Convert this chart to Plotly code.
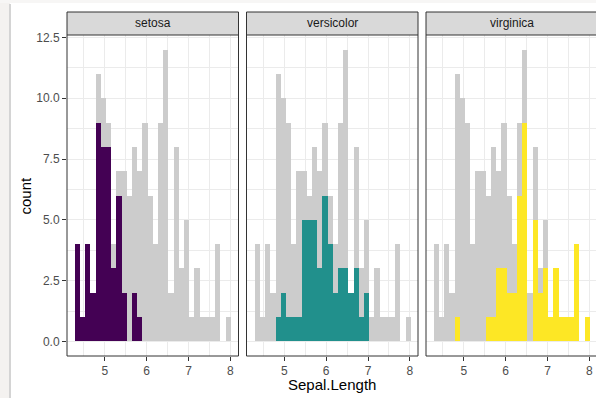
import plotly.graph_objects as go

# ---- data (histogram of iris Sepal.Length, 30 bins) ----
bin_lo = 4.2828          # first break
bin_w = 0.12414          # bin width
n_bins = 30
all_counts = [4, 1, 4, 2, 11, 10, 9, 4, 7, 7, 6, 8, 7, 9, 6, 4, 9, 12, 2, 8, 3, 5, 1, 3, 1, 1, 1, 4, 0, 1]
setosa = [4, 1, 4, 2, 9, 8, 8, 3, 6, 2, 0, 2, 1, 0, 0, 0, 0, 0, 0, 0, 0, 0, 0, 0, 0, 0, 0, 0, 0, 0]
versicolor = [0, 0, 0, 0, 1, 2, 1, 1, 1, 5, 5, 5, 3, 6, 4, 2, 3, 3, 2, 3, 1, 2, 0, 0, 0, 0, 0, 0, 0, 0]
virginica = [0, 0, 0, 0, 1, 0, 0, 0, 0, 0, 1, 1, 3, 3, 2, 2, 6, 9, 0, 5, 2, 3, 1, 3, 1, 1, 1, 4, 0, 1]
species = ["setosa", "versicolor", "virginica"]
species_counts = [setosa, versicolor, virginica]
species_colors = ["#440154", "#21908C", "#FDE725"]
y_ticks = [0, 2.5, 5, 7.5, 10, 12.5]
x_ticks = [5, 6, 7, 8]

centers = [bin_lo + bin_w * (i + 0.5) for i in range(n_bins)]

W, H = 596, 398
VIS = W  # the third panel runs past the picture's right edge
def fx(px): return min(px / W, 1)
def fy(py): return 1 - py / H

panel_left = [67, 246.5, 426]
panel_w = 171.5
ptop, pbot = 35, 356
strip_top = 12

x_lo = bin_lo - 0.05 * bin_w * n_bins
x_hi = bin_lo + bin_w * n_bins + 0.05 * bin_w * n_bins
ppu = panel_w / (x_hi - x_lo)

fig = go.Figure()
GRID = "#EBEBEB"
DARK = "#333333"
FONT = "Liberation Sans, Arial, sans-serif"

for k in range(3):
    xa = "x" if k == 0 else f"x{k+1}"
    ya = "y" if k == 0 else f"y{k+1}"
    fig.add_trace(go.Bar(x=centers, y=all_counts, width=bin_w, marker=dict(color="#CCCCCC", line=dict(width=0)),
                         xaxis=xa, yaxis=ya, showlegend=False, hoverinfo="skip"))
    fig.add_trace(go.Bar(x=centers, y=species_counts[k], width=bin_w,
                         marker=dict(color=species_colors[k], line=dict(width=0)),
                         xaxis=xa, yaxis=ya, showlegend=False, name=species[k]))

layout = dict(width=W, height=H, margin=dict(l=0, r=0, t=0, b=0),
              paper_bgcolor="white", plot_bgcolor="white",
              barmode="overlay", bargap=0, font=dict(family=FONT, size=12, color="#4D4D4D"))

shapes = [
    dict(type="rect", xref="paper", yref="paper", x0=0, x1=fx(10), y0=0, y1=1,
         fillcolor="#F4F2F0", line=dict(width=0), layer="below"),
    dict(type="line", xref="paper", yref="paper", x0=fx(10), x1=fx(10), y0=0, y1=fy(4),
         line=dict(color="#D4D4D4", width=2), layer="below"),
    dict(type="rect", xref="paper", yref="paper", x0=0, x1=1, y0=fy(3), y1=1,
         fillcolor="#F7F6F5", line=dict(width=0), layer="below"),
]

def hline(x0, x1, py):
    return dict(type="line", xref="paper", yref="paper", x0=fx(x0), x1=fx(x1), y0=fy(py), y1=fy(py),
                line=dict(color=DARK, width=1))

def vline(px_, y0, y1):
    return dict(type="line", xref="paper", yref="paper", x0=fx(px_), x1=fx(px_), y0=fy(y0), y1=fy(y1),
                line=dict(color=DARK, width=1))

annotations = []
for k in range(3):
    sfx = "" if k == 0 else str(k + 1)
    left = panel_left[k]
    right = left + panel_w
    vis_right = min(right, VIS)
    hi = x_lo + (vis_right - left) / ppu
    layout["xaxis" + sfx] = dict(domain=[fx(left), fx(vis_right)], range=[x_lo, hi], anchor="y" + sfx,
                                 tickvals=x_ticks, ticks="outside", ticklen=4, tickcolor=DARK, tickwidth=1,
                                 showgrid=True, gridcolor=GRID, gridwidth=1.2,
                                 minor=dict(dtick=0.5, tick0=4.5, showgrid=True, gridcolor=GRID, gridwidth=0.6),
                                 showline=False, zeroline=False,
                                 tickfont=dict(size=12, color="#4D4D4D"), automargin=False, fixedrange=True)
    layout["yaxis" + sfx] = dict(domain=[fy(pbot), fy(ptop)], range=[-0.6, 12.6], anchor="x" + sfx,
                                 tickvals=y_ticks, ticktext=[f"{v:.1f}" for v in y_ticks],
                                 showticklabels=(k == 0), ticks="outside" if k == 0 else "",
                                 ticklen=4, tickcolor=DARK, tickwidth=1,
                                 showgrid=True, gridcolor=GRID, gridwidth=1.2,
                                 minor=dict(dtick=1.25, tick0=1.25, showgrid=True, gridcolor=GRID, gridwidth=0.6),
                                 showline=False, zeroline=False,
                                 tickfont=dict(size=12, color="#4D4D4D"), automargin=False, fixedrange=True)
    shapes.append(dict(type="rect", xref="paper", yref="paper", x0=fx(left), x1=fx(vis_right),
                       y0=fy(ptop), y1=fy(strip_top), fillcolor="#D9D9D9", line=dict(width=0)))
    shapes.append(hline(left, vis_right, strip_top))
    shapes.append(hline(left, vis_right, ptop))
    shapes.append(hline(left, vis_right, pbot))
    shapes.append(vline(left, pbot, strip_top))
    if right <= VIS:
        shapes.append(vline(right, pbot, strip_top))
    annotations.append(dict(text=species[k], xref="paper", yref="paper",
                            x=(left + panel_w / 2) / W, y=fy((ptop + strip_top) / 2),
                            showarrow=False, font=dict(size=12, color="#1A1A1A", family=FONT),
                            xanchor="center", yanchor="middle"))

annotations.append(dict(text="count", xref="paper", yref="paper", x=fx(25), y=fy((ptop + pbot) / 2),
                        textangle=-90, showarrow=False, font=dict(size=15, color="black", family=FONT),
                        xanchor="center", yanchor="middle"))
annotations.append(dict(text="Sepal.Length", xref="paper", yref="paper", x=fx(332), y=fy(384),
                        showarrow=False, font=dict(size=15, color="black", family=FONT),
                        xanchor="center", yanchor="middle"))
layout["shapes"] = shapes
layout["annotations"] = annotations
fig.update_layout(**layout)
fig.write_html("out.html", config={"displayModeBar": False},
               post_script="document.body.style.margin='0';document.body.style.overflow='hidden';")
